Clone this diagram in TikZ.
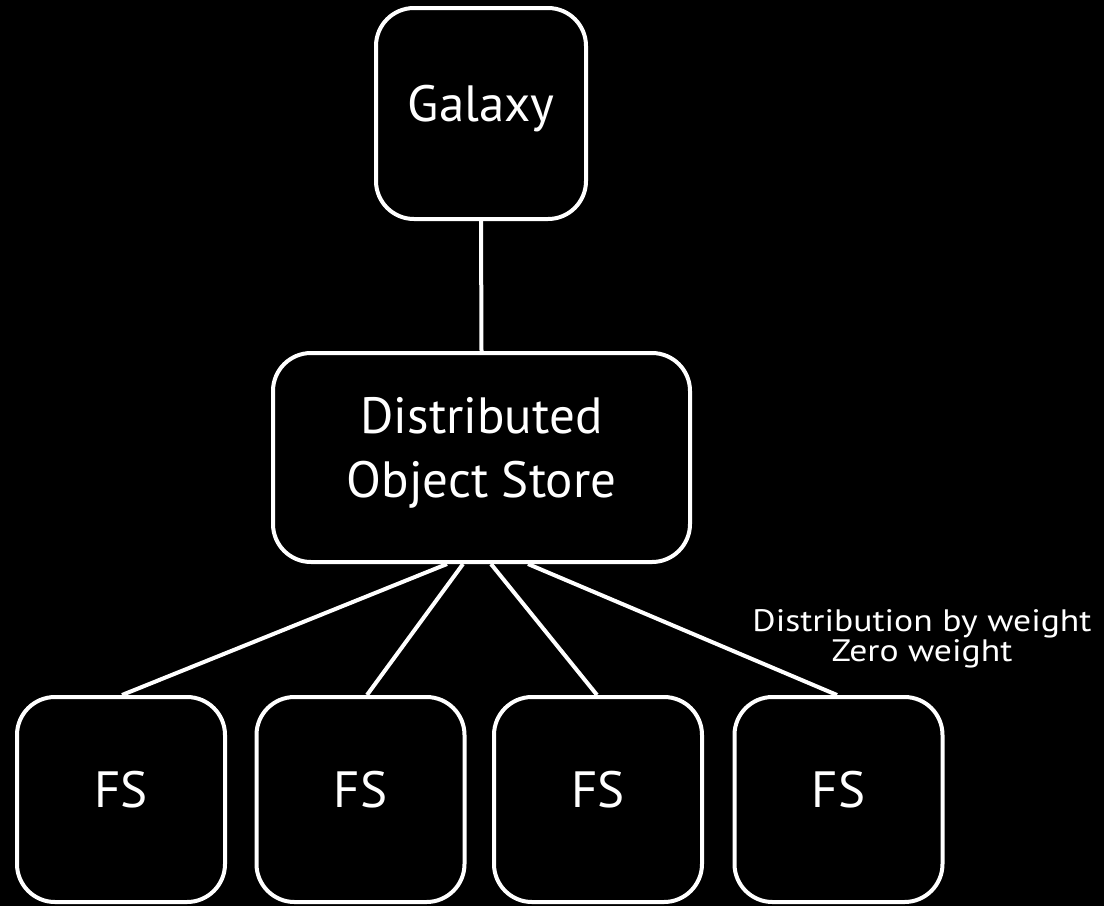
\documentclass[tikz,border=0pt]{standalone}
\usepackage{fontspec}
\setmainfont{PT Sans}
\usetikzlibrary{calc}
\tikzset{
  box/.style={draw=white, line width=4pt, rounded corners=38pt, fill=black,
    text=white, align=center, inner sep=0pt,
    font=\fontsize{51}{64}\selectfont},
  fsbox/.style={box, minimum width=208pt, minimum height=205pt,
    text height=38pt, text depth=23pt},
  link/.style={draw=white, line width=4pt},
  note/.style={text=white, align=center, inner sep=0pt,
    font=\fontsize{31}{30}\selectfont}
}
\begin{document}
\begin{tikzpicture}[x=1pt,y=-1pt]
\fill[black] (0,0) rectangle (1104,906);
\useasboundingbox (0,0) rectangle (1104,906);

\node[box, minimum width=210pt, minimum height=211pt, text height=38pt, text depth=23pt] (galaxy) at (481,113.5) {Galaxy};
\node[box, minimum width=417pt, minimum height=209pt, text height=101pt, text depth=22pt] (dos) at (481.5,457.5) {Distributed\\Object Store};

\node[fsbox] (fs1) at (121,799.5) {FS};
\node[fsbox] (fs2) at (360.5,799.5) {FS};
\node[fsbox] (fs3) at (598,799.5) {FS};
\node[fsbox] (fs4) at (838.5,799.5) {FS};

\node[note] (lbl) at (922,639) {\scalebox{1.15}[1]{Distribution by weight}\\\scalebox{1.15}[1]{Zero weight}};

\draw[link] (galaxy.south) -- (dos.north);
\draw[link] ($(dos.south)+(-34.5,0)$) -- ($(fs1.north)+(1,0)$);
\draw[link] ($(dos.south)+(-18.5,0)$) -- ($(fs2.north)+(6.5,0)$);
\draw[link] ($(dos.south)+(9.5,0)$) -- ($(fs3.north)+(-1,0)$);
\draw[link] ($(dos.south)+(46.5,0)$) -- ($(fs4.north)+(-1.5,0)$);
\end{tikzpicture}
\end{document}
